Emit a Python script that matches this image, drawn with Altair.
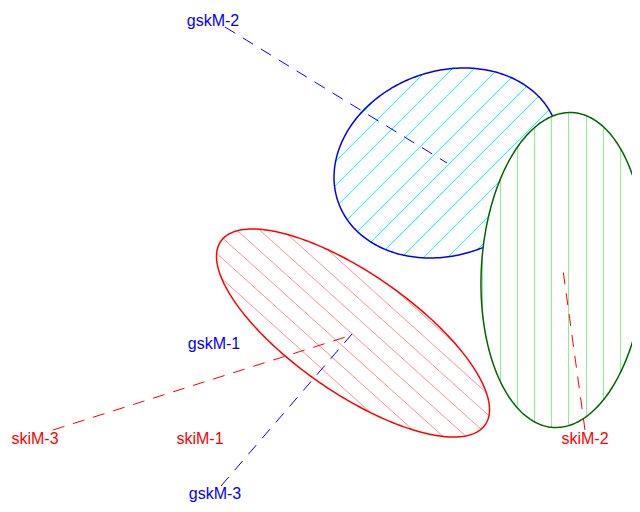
import numpy as np
import pandas as pd
import altair as alt

# ---- ellipses (picture pixel coordinates) ----
ell_name = ["gskM-2", "skiM-1", "skiM-2"]
ell_cx = [447.0, 353.0, 563.0]
ell_cy = [163.0, 333.0, 270.0]
ell_a = [115.6, 160.9, 157.7]
ell_b = [91.8, 59.7, 81.6]
ell_phi = [20.4, -34.75, 86.5]
outline_colors = ["#0000FF", "#FF0000", "#006400"]
hatch_colors = ["#00FFFF", "#FF9090", "#90EE90"]
# hatch families: anchor point, direction, step along x
hatch_ax = [520.0, 270.0, 500.0]
hatch_ay = [0.0, 260.0, 0.0]
hatch_dx = [1.0, 1.0, 0.0]
hatch_dy = [-1.0, 0.9, 1.0]
hatch_step = [23.0, 23.0, 17.2]

# ---- labels ----
label_text = ["gskM-2", "gskM-1", "gskM-3", "skiM-3", "skiM-1", "skiM-2"]
label_x = [213, 214, 215, 35, 200, 585]
label_y = [26, 349, 499, 444, 444, 444]
label_color = ["#0000FF", "#0000FF", "#0000FF", "#FF0000", "#FF0000", "#FF0000"]

# ---- dashed connectors ----
seg_x1 = [225, 221, 53, 585]
seg_y1 = [27, 486, 430, 430]
seg_x2 = [447, 352, 352, 563]
seg_y2 = [163, 334, 335, 270]
seg_color = ["#0000FF", "#0000FF", "#FF0000", "#FF0000"]


def clip_line(p0, d, i):
    c = np.array([ell_cx[i], ell_cy[i]])
    phi = np.radians(ell_phi[i])
    u = np.array([np.cos(phi), -np.sin(phi)])
    v = np.array([np.sin(phi), np.cos(phi)])
    a, b = ell_a[i], ell_b[i]
    q = p0 - c
    du, dv, qu, qv = d @ u, d @ v, q @ u, q @ v
    A = (du / a) ** 2 + (dv / b) ** 2
    B = 2 * (qu * du / a ** 2 + qv * dv / b ** 2)
    C = (qu / a) ** 2 + (qv / b) ** 2 - 1
    disc = B * B - 4 * A * C
    if disc <= 0:
        return None
    s1 = (-B - np.sqrt(disc)) / (2 * A)
    s2 = (-B + np.sqrt(disc)) / (2 * A)
    return p0 + s1 * d, p0 + s2 * d


outline_rows, hatch_rows, fill_rows = [], [], []
for i in range(3):
    phi = np.radians(ell_phi[i])
    u = np.array([np.cos(phi), -np.sin(phi)])
    v = np.array([np.sin(phi), np.cos(phi)])
    for j, t in enumerate(np.linspace(0, 2 * np.pi, 361)):
        p = np.array([ell_cx[i], ell_cy[i]]) + ell_a[i] * np.cos(t) * u + ell_b[i] * np.sin(t) * v
        outline_rows.append({"e": ell_name[i], "i": j, "x": p[0], "y": p[1], "col": outline_colors[i]})
    d = np.array([hatch_dx[i], hatch_dy[i]])
    for k in range(-40, 41):
        ax = hatch_ax[i] + k * hatch_step[i]
        if hatch_dx[i] == 0:
            ax = np.floor(ax) + 0.5          # crisp vertical lines on pixel centres
        elif hatch_dy[i] == -1.0:
            ax = 2 * np.floor(ax / 2) + 1    # diagonal lines through pixel centres
        p0 = np.array([ax, hatch_ay[i]])
        r = clip_line(p0, d, i)
        if r is not None:
            hatch_rows.append({"e": ell_name[i], "x": r[0][0], "y": r[0][1],
                               "x2": r[1][0], "y2": r[1][1], "col": hatch_colors[i]})

# white fill for the last (green) ellipse, which hides the blue one
gi = 2
xs = [p["x"] for p in outline_rows if p["e"] == ell_name[gi]]
for x in np.linspace(min(xs) + 0.01, max(xs) - 0.01, 400):
    r = clip_line(np.array([x, 0.0]), np.array([0.0, 1.0]), gi)
    if r is not None:
        fill_rows.append({"x": x, "y": r[0][1], "y2": r[1][1]})

outline_df = pd.DataFrame(outline_rows)
hatch_df = pd.DataFrame(hatch_rows)
fill_df = pd.DataFrame(fill_rows)
label_df = pd.DataFrame({"t": label_text, "x": label_x, "y": label_y, "col": label_color})
seg_df = pd.DataFrame({"x": seg_x1, "y": seg_y1, "x2": seg_x2, "y2": seg_y2, "col": seg_color})

X = alt.X("x:Q", scale=alt.Scale(domain=[8, 632], nice=False, zero=False), axis=None)
Y = alt.Y("y:Q", scale=alt.Scale(domain=[504, 8], nice=False, zero=False), axis=None)
COL = alt.Color("col:N", scale=None, legend=None)


def hatch(name):
    return alt.Chart(hatch_df[hatch_df.e == name]).mark_rule(strokeWidth=1, clip=True).encode(
        x=X, y=Y, x2="x2:Q", y2="y2:Q", color=COL)


def outline(name):
    return alt.Chart(outline_df[outline_df.e == name]).mark_line(strokeWidth=1.5, clip=True).encode(
        x=X, y=Y, order="i:Q", color=COL)


fill = alt.Chart(fill_df).mark_area(color="white", clip=True).encode(x=X, y=Y, y2="y2:Q")

segs = alt.Chart(seg_df).mark_rule(strokeWidth=1, strokeDash=[12, 9], clip=True).encode(
    x=X, y=Y, x2="x2:Q", y2="y2:Q", color=COL)

texts = alt.Chart(label_df).mark_text(font="Liberation Sans", fontSize=16, align="center",
                                      baseline="alphabetic").encode(
    x=X, y=Y, text="t:N", color=COL)

chart = alt.layer(
    hatch("gskM-2"), outline("gskM-2"),
    hatch("skiM-1"), outline("skiM-1"),
    fill, hatch("skiM-2"), outline("skiM-2"),
    segs, texts,
).properties(width=624, height=496, padding=0,
             autosize=alt.AutoSizeParams(type="none")).configure_view(stroke=None)

chart.save("out.html", embed_options={"renderer": "svg", "actions": False})
